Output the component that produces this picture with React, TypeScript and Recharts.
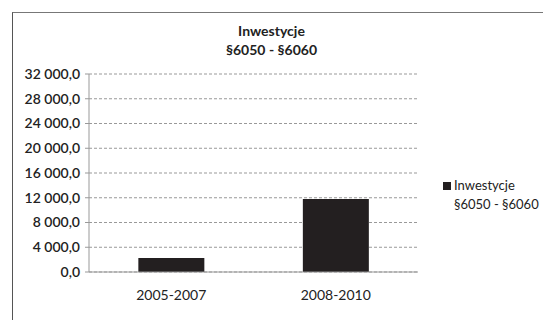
import { Bar, BarChart, CartesianGrid, XAxis, YAxis } from "recharts";

const periods = ["2005-2007", "2008-2010"];
const investments = [2250, 11800];
const yTicks = [0, 4000, 8000, 12000, 16000, 20000, 24000, 28000, 32000];

const data = periods.map((p, i) => ({ period: p, value: investments[i] }));

const FONT = "Lato, 'Open Sans', sans-serif";

// "32 000,0" style – space groups, comma decimal
function fmt(v: number) {
  const [int, dec] = v.toFixed(1).split(".");
  return int.replace(/\B(?=(\d{3})+(?!\d))/g, " ") + "," + dec;
}

export default function App() {
  return (
    <div style={{ position: "absolute", left: 0, top: 0, width: 543, height: 320, background: "#fff" }}>
      <div
        style={{
          position: "absolute", left: 12, top: 12, width: 540, height: 320,
          borderLeft: "1px solid #555", borderTop: "1px solid #777",
        }}
      />
      <div
        style={{
          position: "absolute", left: 0, top: 21, width: 543, textAlign: "center",
          fontFamily: FONT, fontWeight: 700, fontSize: 14, lineHeight: "19px", color: "#222",
        }}
      >
        <div>Inwestycje</div>
        <div>§6050 - §6060</div>
      </div>
      <BarChart
        width={543}
        height={320}
        data={data}
        margin={{ top: 74, right: 125, bottom: 18, left: 10 }}
        barCategoryGap="30%"
        style={{ position: "absolute", left: 0, top: 0 }}
      >
        <CartesianGrid vertical={false} stroke="#999" strokeDasharray="3 2" />
        <XAxis
          dataKey="period"
          height={30}
          stroke="#999"
          tickLine={false}
          tick={{ fill: "#222", fontSize: 14, fontFamily: FONT }}
          tickMargin={12}
        />
        <YAxis
          width={79}
          domain={[0, 32000]}
          ticks={yTicks}
          interval={0}
          stroke="#999"
          tickSize={4}
          tickMargin={5}
          tickFormatter={fmt}
          tick={{ fill: "#222", fontSize: 14, fontFamily: FONT, fontWeight: 600 }}
        />
        <Bar dataKey="value" name="Inwestycje §6050 - §6060" fill="#231f20" isAnimationActive={false} />
      </BarChart>
      <div
        style={{
          position: "absolute", left: 443, top: 176, whiteSpace: "nowrap",
          fontFamily: FONT, fontSize: 13, color: "#222", lineHeight: "19px",
        }}
      >
        <div style={{ display: "flex", alignItems: "center" }}>
          <span style={{ width: 8, height: 8, background: "#231f20", marginRight: 3, display: "inline-block" }} />
          Inwestycje
        </div>
        <div style={{ paddingLeft: 11 }}>§6050 - §6060</div>
      </div>
    </div>
  );
}
